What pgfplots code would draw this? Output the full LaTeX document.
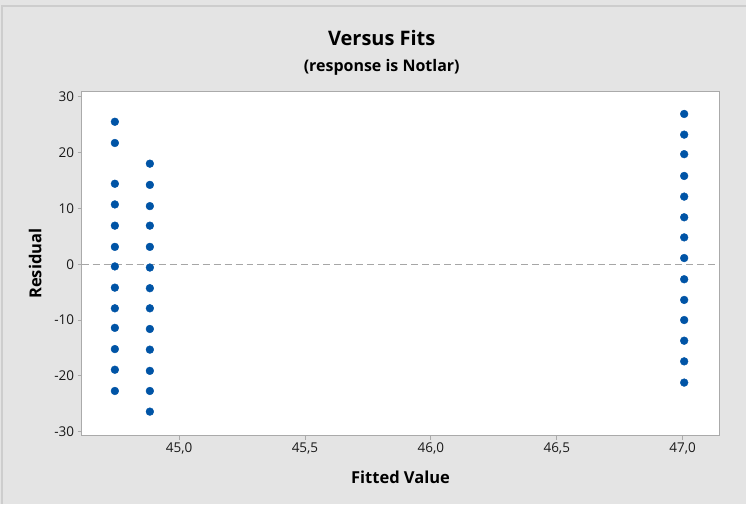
\documentclass[border=0pt]{standalone}
\usepackage{fontspec}
\setmainfont{Open Sans}
\usepackage{pgfplots}
\pgfplotsset{compat=1.18}
\definecolor{bgc}{RGB}{228,228,228}
\definecolor{frm}{RGB}{205,205,205}
\definecolor{dotc}{RGB}{0,84,166}
\definecolor{axc}{RGB}{170,170,170}
\begin{document}
\begin{tikzpicture}[x=1pt,y=1pt]
\fill[bgc] (0,0) rectangle (747,504);
\draw[frm,line width=1.2pt] (2,0) -- (2,498) -- (747,498);
\begin{axis}[
  at={(81.7pt,68pt)}, anchor=south west,
  scale only axis, width=638.3pt, height=344.3pt,
  xmin=44.613, xmax=47.146, ymin=-30.7, ymax=30.9,
  axis background/.style={fill=white},
  axis line style={axc, line width=0.9pt},
  xtick={45,45.5,46,46.5,47},
  xticklabels={{45,0},{45,5},{46,0},{46,5},{47,0}},
  ytick={-30,-20,...,30},
  tick align=outside, tick pos=left,
  major tick length=4pt,
  tick style={axc, line width=0.8pt},
  /pgf/number format/assume math mode=true,
  ticklabel style={font=\fontsize{13.5}{15}\selectfont, text=black!90},
  xlabel={\fontsize{16.5}{19}\selectfont\bfseries Fitted Value},
  ylabel={\fontsize{16.5}{19}\selectfont\bfseries Residual},
  xlabel style={yshift=-9pt},
  ylabel style={yshift=6pt},
  clip=false,
]
\addplot[gray!70, line width=0.8pt, dash pattern=on 7pt off 4pt, forget plot] coordinates {(44.613,0) (47.146,0)};
\addplot[only marks, mark=*, mark size=3.9pt, mark options={draw=dotc, fill=dotc}] coordinates {
(44.745,25.5) (44.745,21.7) (44.745,14.4) (44.745,10.7) (44.745,6.9) (44.745,3.1) (44.745,-0.4)
(44.745,-4.2) (44.745,-7.9) (44.745,-11.4) (44.745,-15.2) (44.745,-18.9) (44.745,-22.7)
(44.884,18.0) (44.884,14.2) (44.884,10.4) (44.884,6.9) (44.884,3.1) (44.884,-0.6) (44.884,-4.3)
(44.884,-7.9) (44.884,-11.6) (44.884,-15.3) (44.884,-19.1) (44.884,-22.7) (44.884,-26.4)
(47.006,26.9) (47.006,23.2) (47.006,19.7) (47.006,15.8) (47.006,12.1) (47.006,8.4) (47.006,4.8)
(47.006,1.1) (47.006,-2.7) (47.006,-6.4) (47.006,-10.0) (47.006,-13.7) (47.006,-17.4) (47.006,-21.2)
};
\end{axis}
\node[font=\fontsize{20}{24}\selectfont\bfseries] at (382,466) {Versus Fits};
\node[font=\fontsize{16}{19}\selectfont\bfseries] at (382,437) {(response is Notlar)};
\end{tikzpicture}
\end{document}
